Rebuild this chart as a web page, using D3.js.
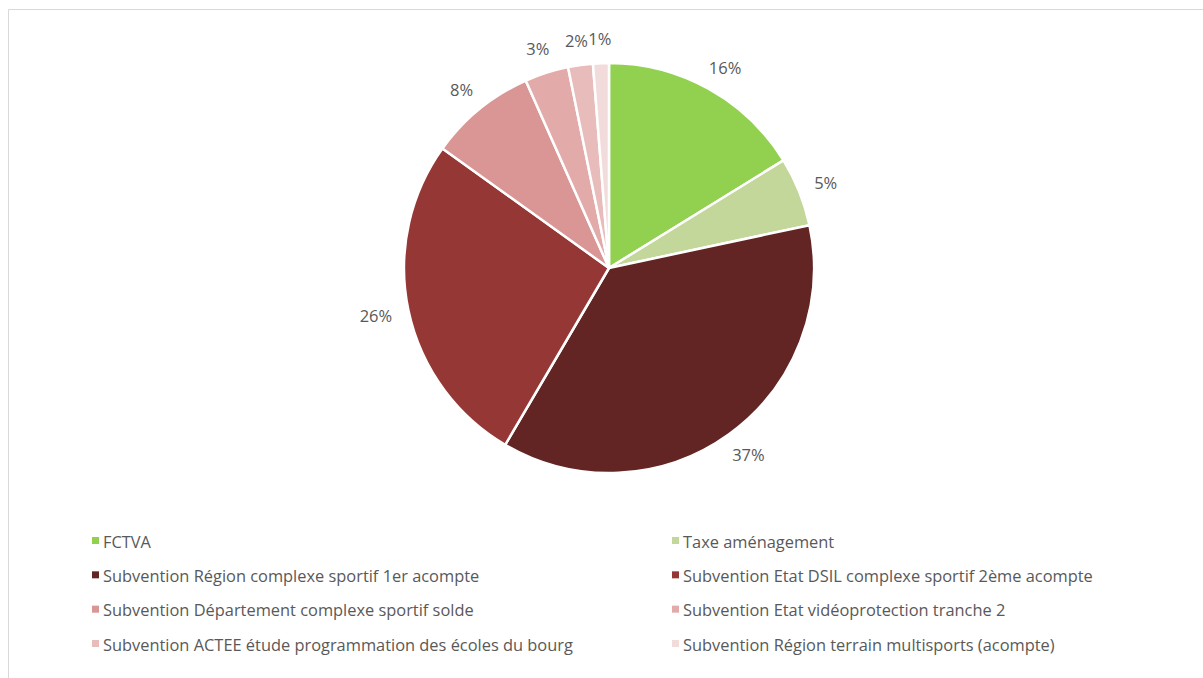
<!DOCTYPE html>
<html>
<head>
<meta charset="utf-8">
<script src="https://cdn.jsdelivr.net/npm/d3@7"></script>
<style>
    html, body { margin: 0; padding: 0; background: #fff; }
    svg { display: block; font-family: "Open Sans", "Liberation Sans", sans-serif; }
</style>
</head>
<body>
<div id="chart"></div>
<script>
// categories (legend order = slice order, clockwise from top)
const categories = [
    "FCTVA",
    "Taxe aménagement",
    "Subvention Région complexe sportif 1er acompte",
    "Subvention Etat DSIL complexe sportif 2ème acompte",
    "Subvention Département complexe sportif solde",
    "Subvention Etat vidéoprotection tranche 2",
    "Subvention ACTEE étude programmation des écoles du bourg",
    "Subvention Région terrain multisports (acompte)"
];
// share of total, in percent
const values = [16.2, 5.45, 36.8, 26.45, 8.45, 3.45, 1.95, 1.25];
const colors = ["#92d050", "#c4d79b", "#632523", "#953735", "#d99694", "#e2abaa", "#e8bcbb", "#f2dcdb"];

const width = 1203, height = 678;
const cx = 609, cy = 268, radius = 205;

const svg = d3.select("#chart").append("svg")
    .attr("width", width)
    .attr("height", height);

// chart frame (only top/left edges visible in the crop)
svg.append("path")
    .attr("d", "M8.5," + height + "V9.5H" + width)
    .attr("fill", "none")
    .attr("stroke", "#d9d9d9")
    .attr("stroke-width", 1);

const pie = d3.pie().sort(null).value(d => d);
const arcs = pie(values);
const arc = d3.arc().innerRadius(0).outerRadius(radius);

const g = svg.append("g").attr("transform", "translate(" + [cx, cy] + ")");

g.selectAll(".slice")
    .data(arcs)
    .enter().append("path")
    .attr("class", "slice")
    .attr("d", arc)
    .attr("fill", (d, i) => colors[i])
    .attr("stroke", "#fff")
    .attr("stroke-width", 2.5)
    .attr("stroke-linejoin", "round");

// data labels, pushed just outside the rim
const labelR = radius + 17;
g.selectAll(".lbl")
    .data(arcs)
    .enter().append("text")
    .attr("class", "lbl")
    .attr("font-size", 16.5)
    .attr("fill", "#595959")
    .attr("text-anchor", "middle")
    .attr("dominant-baseline", "central")
    .text(d => Math.round(d.data) + "%")
    .attr("x", function(d) {
        const a = (d.startAngle + d.endAngle) / 2;
        const w = this.getComputedTextLength();
        return Math.sin(a) * labelR + Math.sin(a) * w / 2;
    })
    .attr("y", d => {
        const a = (d.startAngle + d.endAngle) / 2;
        return -Math.cos(a) * labelR - Math.cos(a) * 8;
    });

// legend: two columns
const legendX = [92, 672];
const legendY = d3.scalePoint().domain([0, 1, 2, 3]).range([541, 644]);

const legend = svg.selectAll(".legend")
    .data(categories)
    .enter().append("g")
    .attr("class", "legend")
    .attr("transform", (d, i) => "translate(" + [legendX[i % 2], legendY(Math.floor(i / 2))] + ")");

legend.append("rect")
    .attr("x", 0)
    .attr("y", -4)
    .attr("width", 7)
    .attr("height", 7)
    .attr("fill", (d, i) => colors[i]);

legend.append("text")
    .attr("x", 11)
    .attr("y", 0)
    .attr("dominant-baseline", "central")
    .attr("font-size", 16.4)
    .attr("fill", "#595959")
    .text(d => d);
</script>
</body>
</html>
